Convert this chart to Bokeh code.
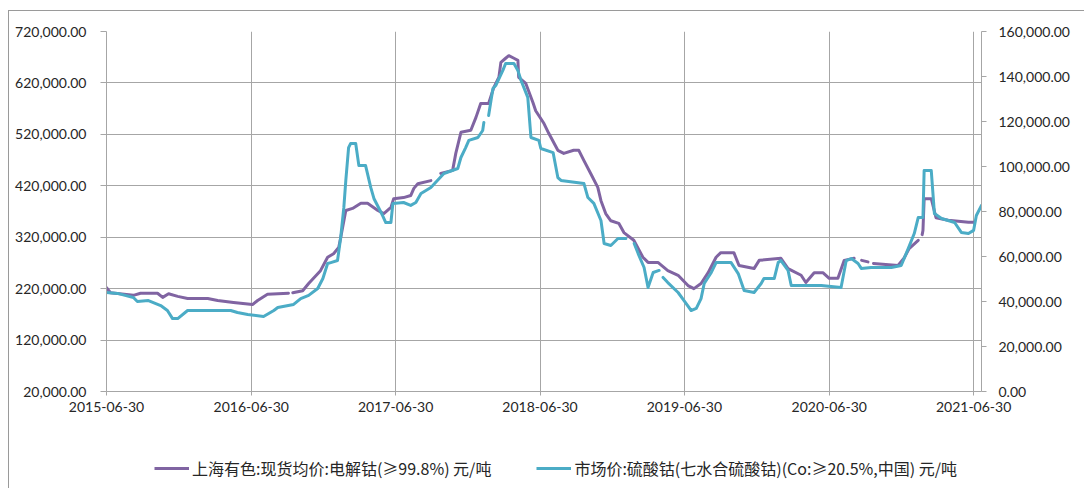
import pandas as pd
from bokeh.plotting import figure
from bokeh.layouts import column
from bokeh.models import (Range1d, LinearAxis, FixedTicker, NumeralTickFormatter,
                          DatetimeTickFormatter, Legend, LegendItem)
from bokeh.embed import file_html
from bokeh.resources import INLINE

nan = float("nan")

# 上海有色:现货均价:电解钴(≥99.8%) 元/吨  (left axis)
cobalt_dates = [
    "2015-06-30", "2015-07-10", "2015-09-06", "2015-09-24", "2015-11-06", "2015-11-19",
    "2015-12-04", "2015-12-27", "2016-01-21", "2016-03-12", "2016-04-06", "2016-05-16",
    "2016-07-03", "2016-07-16", "2016-08-10", "2016-10-02", "2016-10-07", "2016-10-13",
    "2016-11-07", "2016-11-22", "2016-12-22", "2017-01-09", "2017-01-24", "2017-02-06",
    "2017-02-11", "2017-02-24", "2017-03-13", "2017-04-03", "2017-04-20", "2017-05-16",
    "2017-05-31", "2017-06-18", "2017-06-25", "2017-07-20", "2017-08-07", "2017-08-15",
    "2017-08-25", "2017-09-27", "2017-10-10", "2017-10-22", "2017-11-21", "2017-11-29",
    "2017-12-12", "2018-01-06", "2018-01-19", "2018-01-31", "2018-02-20", "2018-03-05",
    "2018-03-18", "2018-03-23", "2018-04-04", "2018-04-12", "2018-04-25", "2018-05-05",
    "2018-05-07", "2018-05-25", "2018-06-12", "2018-06-19", "2018-07-10", "2018-07-22",
    "2018-08-14", "2018-08-29", "2018-09-23", "2018-10-06", "2018-10-19", "2018-11-05",
    "2018-11-23", "2018-12-01", "2018-12-13", "2018-12-26", "2019-01-15", "2019-01-28",
    "2019-02-22", "2019-03-17", "2019-03-30", "2019-04-24", "2019-05-19", "2019-06-14",
    "2019-07-09", "2019-07-24", "2019-08-11", "2019-08-29", "2019-09-18", "2019-09-30",
    "2019-11-02", "2019-11-15", "2019-12-23", "2020-01-05", "2020-02-29", "2020-03-18",
    "2020-04-20", "2020-05-02", "2020-05-23", "2020-06-14", "2020-06-30", "2020-07-22",
    "2020-08-07", "2020-09-01", "2020-09-12", "2020-09-20", "2020-10-06", "2020-10-12",
    "2020-10-20", "2020-12-21", "2021-01-05", "2021-01-18", "2021-02-10", "2021-02-15",
    "2021-02-20", "2021-02-22", "2021-02-25", "2021-03-15", "2021-03-27", "2021-04-27",
    "2021-06-17", "2021-07-02",
]
cobalt_prices = [
    222000, 212000, 207000, 211000, 211000, 203000,
    210000, 205000, 201000, 201000, 197000, 193000,
    189000, 197000, 209000, 211000, nan, 212000,
    216000, 230000, 255000, 281000, 288000, 300000,
    319000, 372000, 376000, 386000, 386000, 372000,
    366000, 378000, 395000, 397000, 401000, 415000,
    424000, 430000, nan, 444000, 450000, 483000,
    524000, 528000, 553000, 580000, 580000, 611000,
    631000, 660000, 668000, 673000, 668000, 664000,
    631000, 619000, 582000, 566000, 541000, 522000,
    489000, 483000, 489000, 489000, 469000, 444000,
    417000, 391000, 366000, 352000, 347000, 329000,
    314000, 281000, 271000, 271000, 255000, 246000,
    226000, 220000, 230000, 251000, 281000, 290000,
    290000, 265000, 259000, 275000, 279000, 259000,
    246000, 232000, 251000, 251000, 240000, 240000,
    275000, 279000, nan, 275000, 272000, nan,
    269000, 265000, 279000, 298000, 314000, nan,
    325000, 333000, 395000, 395000, 358000, 353000,
    349000, 349000,
]

# 市场价:硫酸钴(七水合硫酸钴)(Co:≥20.5%,中国) 元/吨  (right axis)
sulfate_dates = [
    "2015-06-30", "2015-07-28", "2015-09-06", "2015-09-16", "2015-10-14", "2015-11-14",
    "2015-12-01", "2015-12-14", "2015-12-27", "2016-01-21", "2016-05-09", "2016-05-26",
    "2016-06-21", "2016-07-31", "2016-08-26", "2016-09-05", "2016-10-15", "2016-11-02",
    "2016-11-22", "2016-12-15", "2016-12-28", "2017-01-09", "2017-01-17", "2017-02-03",
    "2017-02-11", "2017-02-19", "2017-02-24", "2017-03-03", "2017-03-08", "2017-03-21",
    "2017-03-29", "2017-04-15", "2017-04-28", "2017-05-06", "2017-05-28", "2017-06-05",
    "2017-06-18", "2017-06-23", "2017-07-20", "2017-08-07", "2017-08-20", "2017-09-02",
    "2017-09-27", "2017-10-30", "2017-12-04", "2017-12-12", "2017-12-24", "2018-01-01",
    "2018-01-24", "2018-02-05", "2018-02-08", "2018-02-14", "2018-02-20", "2018-02-26",
    "2018-03-03", "2018-03-10", "2018-03-28", "2018-04-04", "2018-04-25", "2018-05-05",
    "2018-05-13", "2018-05-30", "2018-06-07", "2018-06-27", "2018-07-02", "2018-08-02",
    "2018-08-14", "2018-08-22", "2018-10-19", "2018-10-29", "2018-11-13", "2018-12-01",
    "2018-12-09", "2018-12-26", "2019-01-13", "2019-02-02", "2019-02-12", "2019-02-23",
    "2019-03-05", "2019-03-20", "2019-03-30", "2019-04-12", "2019-04-27", "2019-05-02",
    "2019-05-07", "2019-05-19", "2019-06-14", "2019-06-29", "2019-07-17", "2019-07-30",
    "2019-08-11", "2019-08-19", "2019-09-06", "2019-09-18", "2019-10-26", "2019-11-13",
    "2019-11-28", "2019-12-23", "2020-01-10", "2020-01-17", "2020-02-12", "2020-02-22",
    "2020-02-29", "2020-03-18", "2020-03-26", "2020-04-28", "2020-06-10", "2020-07-30",
    "2020-08-12", "2020-08-25", "2020-09-11", "2020-09-19", "2020-10-14", "2020-12-04",
    "2020-12-29", "2021-01-16", "2021-01-31", "2021-02-10", "2021-02-22", "2021-02-25",
    "2021-03-15", "2021-03-23", "2021-04-10", "2021-05-13", "2021-05-30", "2021-06-17",
    "2021-06-30", "2021-07-07", "2021-07-20",
]
sulfate_prices = [
    44000, 43600, 41800, 40000, 40400, 38200,
    36000, 32400, 32400, 36000, 36000, 35100,
    34200, 33300, 36000, 37300, 38700, 41300,
    42700, 45800, 50200, 56900, 57300, 58200,
    68400, 81800, 93800, 108400, 110200, 110200,
    100400, 100400, 90700, 85800, 78200, 75100,
    75100, 83600, 84000, 82700, 84000, 88000,
    90700, 96900, 99100, 104000, 108400, 111600,
    112900, 116000, 119600, nan, 122700, 129300,
    134700, 136000, 142700, 145800, 145800, 142700,
    138200, 130700, 112900, 111600, 108000, 106200,
    95100, 93800, 92400, 86200, 83600, 76000,
    65800, 64900, 68000, 68000, nan, 65800,
    61300, 55100, 46200, 52900, 53800, nan,
    50700, 48400, 44000, 40400, 36000, 36900,
    41300, 48000, 52900, 57300, 57300, 52400,
    44900, 44000, 48000, 50200, 50200, 57300,
    58200, 53800, 47100, 47100, 47100, 46200,
    58200, 59100, 56900, 54700, 55100, 55100,
    56000, 63600, 70200, 77300, 77300, 98200,
    98200, 79100, 76900, 75100, 70700, 70200,
    71600, 78200, 82700,
]

x_tick_labels = ["2015-06-30", "2016-06-30", "2017-06-30", "2018-06-30",
                 "2019-06-30", "2020-06-30", "2021-06-30"]
left_ticks = [20000, 120000, 220000, 320000, 420000, 520000, 620000, 720000]
right_ticks = [0, 20000, 40000, 60000, 80000, 100000, 120000, 140000, 160000]
series_names = ["上海有色:现货均价:电解钴(≥99.8%) 元/吨",
                "市场价:硫酸钴(七水合硫酸钴)(Co:≥20.5%,中国) 元/吨"]
series_colors = ["#8064A2", "#4BACC6"]

cd = pd.to_datetime(cobalt_dates)
sd = pd.to_datetime(sulfate_dates)
tick_ms = [pd.Timestamp(t).value // 10**6 for t in x_tick_labels]
x_start, x_end = pd.Timestamp("2015-06-30"), pd.Timestamp("2021-07-20")

FONT = "Lato"
GRID = "#A6A6A6"
TXT = "#262626"

p = figure(width=1076, height=411, x_axis_type="datetime",
           x_range=Range1d(x_start, x_end),
           y_range=Range1d(20000, 720000),
           output_backend="svg", toolbar_location=None,
           min_border_left=97, min_border_right=104,
           min_border_top=20, min_border_bottom=31)
p.extra_y_ranges = {"right": Range1d(0, 160000)}
p.outline_line_color = None
p.background_fill_color = "white"
p.border_fill_color = "white"

for ax in [p.xaxis[0], p.yaxis[0]]:
    ax.axis_line_color = GRID
    ax.major_tick_line_color = GRID
    ax.minor_tick_line_color = None
    ax.major_tick_in = 0
    ax.major_label_text_font = FONT
    ax.major_label_text_font_size = "14px"
    ax.major_label_text_color = TXT

p.xaxis[0].ticker = FixedTicker(ticks=tick_ms)
p.xaxis[0].formatter = DatetimeTickFormatter(days="%Y-%m-%d", months="%Y-%m-%d",
                                             years="%Y-%m-%d", hours="%Y-%m-%d")
p.xaxis[0].major_tick_out = 4
p.xaxis[0].major_label_standoff = 6

p.yaxis[0].ticker = FixedTicker(ticks=left_ticks)
p.yaxis[0].formatter = NumeralTickFormatter(format="0,0.00")
p.yaxis[0].major_tick_out = 6
p.yaxis[0].major_label_standoff = 14

right = LinearAxis(y_range_name="right",
                   ticker=FixedTicker(ticks=right_ticks),
                   formatter=NumeralTickFormatter(format="0,0.00"))
right.axis_line_color = GRID
right.major_tick_line_color = GRID
right.minor_tick_line_color = None
right.major_tick_in = 0
right.major_tick_out = 5
right.major_label_standoff = 12
right.major_label_text_font = FONT
right.major_label_text_font_size = "14px"
right.major_label_text_color = TXT
p.add_layout(right, "right")

p.xgrid.ticker = FixedTicker(ticks=tick_ms)
p.ygrid.ticker = FixedTicker(ticks=left_ticks)
p.xgrid.grid_line_color = GRID
p.ygrid.grid_line_color = GRID

p.line(cd, cobalt_prices, color=series_colors[0], line_width=3,
       line_join="round", line_cap="round")
p.line(sd, sulfate_prices, color=series_colors[1], line_width=3,
       line_join="round", line_cap="round", y_range_name="right")

# legend strip below the chart (same series, drawn out of view; only the keys show)
lg = figure(width=1076, height=67, x_axis_type="datetime",
            x_range=Range1d(x_start, x_end), y_range=Range1d(-2, -1),
            x_axis_location=None, y_axis_location=None,
            output_backend="svg", toolbar_location=None,
            min_border_left=0, min_border_right=0, min_border_top=0, min_border_bottom=0)
lg.grid.visible = False
lg.outline_line_color = None
k1 = lg.line(cd, cobalt_prices, color=series_colors[0], line_width=3)
k2 = lg.line(sd, sulfate_prices, color=series_colors[1], line_width=3)
legend = Legend(items=[LegendItem(label=series_names[0], renderers=[k1]),
                       LegendItem(label=series_names[1], renderers=[k2])],
                orientation="horizontal", location=(48, 9),
                glyph_width=35, glyph_height=20, label_standoff=3, spacing=45,
                padding=5, border_line_color=None, background_fill_alpha=0,
                label_text_font="Noto Sans CJK SC", label_text_font_size="16px",
                label_text_color=TXT)
lg.add_layout(legend)

layout = column(p, lg, spacing=0,
                styles={"margin-left": "8px", "margin-top": "10px",
                        "border-left": "1px solid #9a9a9a",
                        "border-top": "1px solid #9a9a9a"})

open("out.html", "w").write(file_html(layout, INLINE))
